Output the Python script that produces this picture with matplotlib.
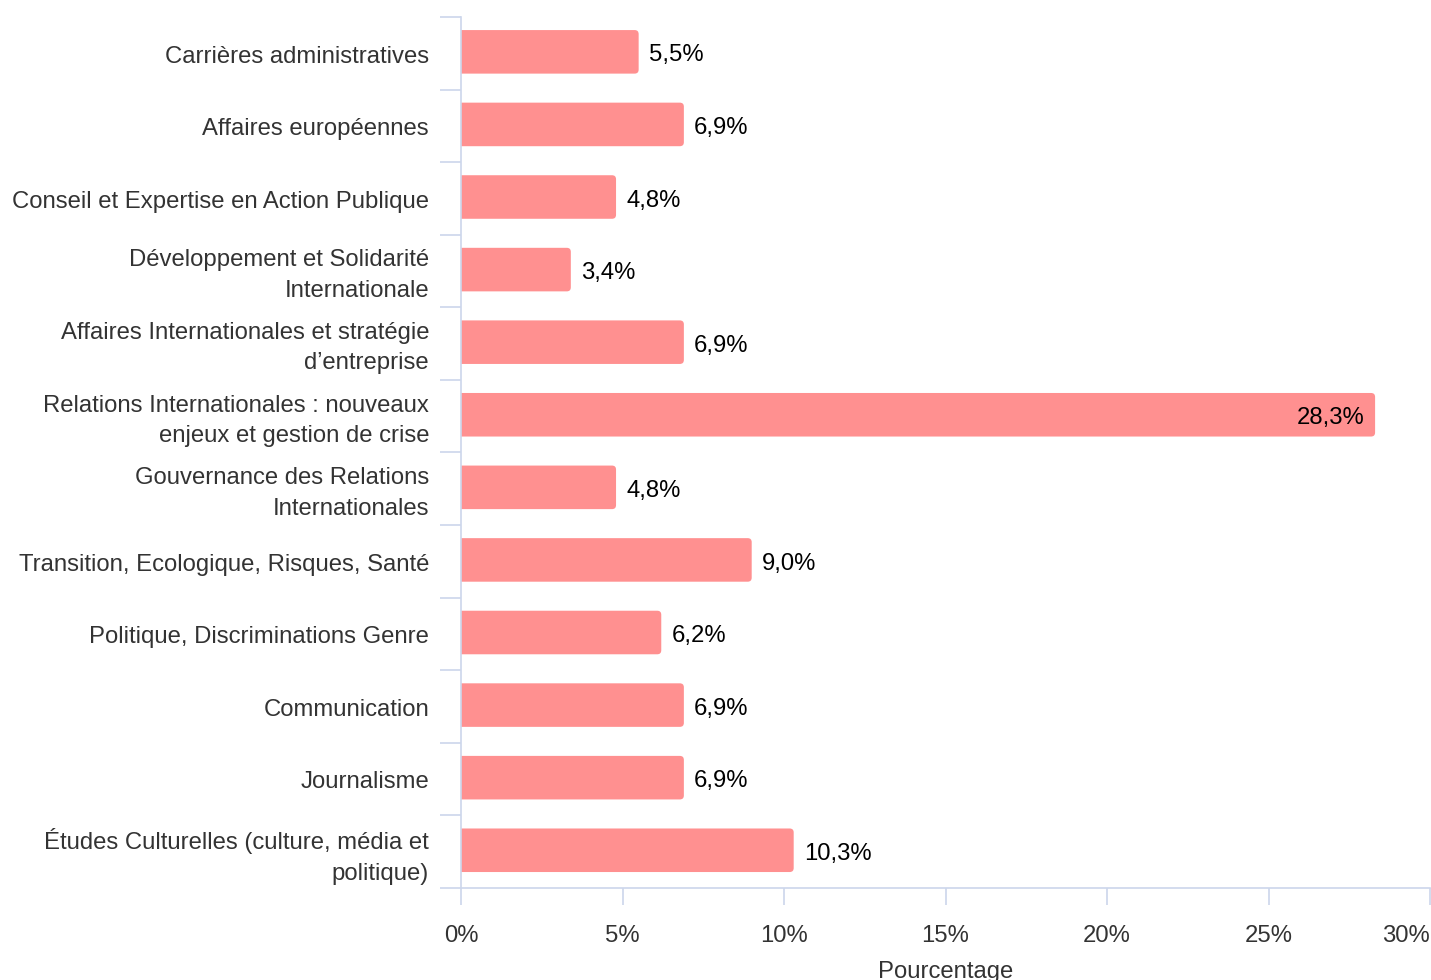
import matplotlib
matplotlib.use("Agg")
import matplotlib.pyplot as plt
from matplotlib.patches import FancyBboxPatch
import numpy as np

plt.rcParams['font.family'] = ['Liberation Sans', 'DejaVu Sans']

categories = [
    "Carrières administratives",
    "Affaires européennes",
    "Conseil et Expertise en Action Publique",
    "Développement et Solidarité\nInternationale",
    "Affaires Internationales et stratégie\nd’entreprise",
    "Relations Internationales : nouveaux\nenjeux et gestion de crise",
    "Gouvernance des Relations\nInternationales",
    "Transition, Ecologique, Risques, Santé",
    "Politique, Discriminations Genre",
    "Communication",
    "Journalisme",
    "Études Culturelles (culture, média et\npolitique)",
]
values = [5.5, 6.9, 4.8, 3.4, 6.9, 28.3, 4.8, 9.0, 6.2, 6.9, 6.9, 10.3]
xticks = [0, 5, 10, 15, 20, 25, 30]

W, H = 1431, 980
fig = plt.figure(figsize=(W / 100, H / 100), dpi=100)
L, R, T, B = 461, 1430, 17, 888
ax = fig.add_axes([L / W, 1 - B / H, (R - L) / W, (B - T) / H])

n = len(categories)
ax.set_xlim(0, 30)
off = 0.02
ax.set_ylim(n - 0.5 + off, -0.5 + off)

axis_col = "#ccd6eb"
bar_col = "#ff9090"
fs = 17.2
bh = 0.6
px_x = (R - L) / 30.0
px_y = (B - T) / n
rs = 4 / px_x
for i, v in enumerate(values):
    x0 = -3 * rs
    p = FancyBboxPatch((x0, i - bh / 2), v - x0, bh,
                       boxstyle=f"round,pad=0,rounding_size={rs}",
                       mutation_aspect=px_x / px_y,
                       facecolor=bar_col, edgecolor="none", zorder=2)
    ax.add_patch(p)
    lab = f"{v:.1f}".replace(".", ",") + "%"
    if v > 25:
        ax.text(v - 11 / px_x, i + 0.05, lab, ha="right", va="center",
                fontsize=fs, color="#000000", zorder=3)
    else:
        ax.text(v + 10 / px_x, i + 0.05, lab, ha="left", va="center",
                fontsize=fs, color="#000000", zorder=3)

for s in ["top", "right", "bottom"]:
    ax.spines[s].set_visible(False)
ax.spines["left"].set_color(axis_col)
ax.spines["left"].set_linewidth(1.2)

ax.set_xticks(xticks)
ax.set_xticklabels([f"{t}%" for t in xticks])
ax.tick_params(axis="x", length=12.5, width=1.2, color=axis_col,
               labelsize=fs, labelcolor="#333333", pad=14)
lbls = ax.get_xticklabels()
lbls[-1].set_horizontalalignment("right")
lbls[-1].set_x(30)

ypos = [i + (0.03 if "\n" not in c else -0.01) for i, c in enumerate(categories)]
ax.set_yticks(ypos)
ax.set_yticklabels(categories, linespacing=1.5)
ax.tick_params(axis="y", length=0, labelsize=fs, labelcolor="#333333", pad=23)
ax.set_yticks(np.arange(n + 1) - 0.5 + off, minor=True)
ax.tick_params(axis="y", which="minor", length=15, width=1.2, color=axis_col)

# bottom axis line
ax.plot([0, 1], [0, 0], transform=ax.transAxes, color=axis_col, lw=1.2,
        clip_on=False, zorder=1)

ax.set_xlabel("Pourcentage", fontsize=fs, color="#333333", labelpad=10)

fig.savefig("out.png", dpi=100)
